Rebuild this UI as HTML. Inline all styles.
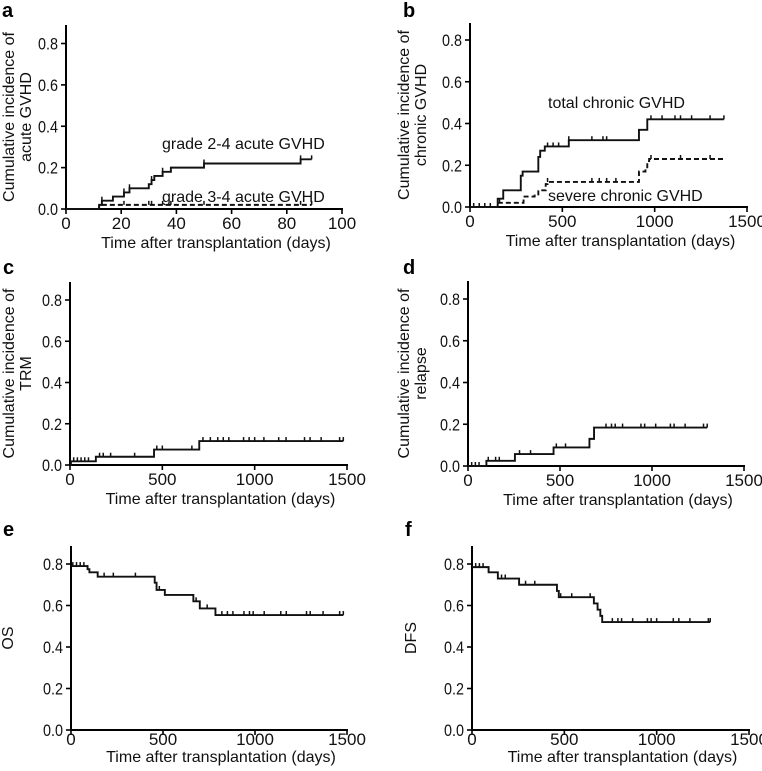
<!DOCTYPE html>
<html><head><meta charset="utf-8">
<style>
html,body{margin:0;padding:0;background:#fff;}
svg{display:block;font-family:"Liberation Sans",Arial,sans-serif;}
</style></head>
<body>
<svg id="fig" width="762" height="771" viewBox="0 0 762 771" xmlns="http://www.w3.org/2000/svg"></svg>
<script>
// ---- Panel a: acute GVHD ----
const aTimes24 = [0, 12, 13, 17, 21, 23, 30, 31, 32, 35, 38, 50, 85];
const aVals24  = [0, 0.02, 0.04, 0.06, 0.08, 0.10, 0.12, 0.14, 0.16, 0.18, 0.20, 0.22, 0.24];
const aEnd24 = 89;
const aCens24 = [13, 21, 23, 31, 35, 50, 85, 89];
const aTimes34 = [0, 12];
const aVals34  = [0, 0.02];
const aEnd34 = 89;
const aCens34 = [13, 21, 30, 31, 35, 38, 50, 85, 89];
const aXTicks = [0, 20, 40, 60, 80, 100];
// ---- Panel b: chronic GVHD ----
const bTimesTot = [0, 150, 180, 275, 285, 370, 380, 405, 535, 915, 960];
const bValsTot  = [0, 0.04, 0.08, 0.15, 0.17, 0.24, 0.27, 0.29, 0.32, 0.37, 0.42];
const bEndTot = 1375;
const bCensTot = [20, 50, 80, 110, 420, 450, 480, 535, 660, 720, 740, 980, 1040, 1110, 1140, 1200, 1300, 1375];
const bTimesSev = [0, 150, 290, 350, 370, 410, 420, 915, 950, 960, 970];
const bValsSev  = [0, 0.02, 0.05, 0.06, 0.08, 0.11, 0.12, 0.17, 0.18, 0.22, 0.23];
const bEndSev = 1375;
const bCensSev = [160, 420, 660, 700, 740, 790, 980, 1140, 1300];
// ---- Panel c: TRM ----
const cTimes = [0, 5, 140, 455, 700];
const cVals  = [0, 0.018, 0.04, 0.075, 0.116];
const cEnd = 1480;
const cCens = [20, 40, 60, 80, 100, 160, 180, 220, 350, 470, 500, 660, 720, 760, 800, 830, 860, 940, 970, 1000, 1050, 1130, 1170, 1270, 1300, 1360, 1460, 1480];
// ---- Panel d: relapse ----
const dTimes = [0, 100, 255, 465, 660, 685];
const dVals  = [0, 0.025, 0.057, 0.089, 0.13, 0.184];
const dEnd = 1300;
const dCens = [20, 40, 60, 110, 150, 170, 280, 340, 480, 530, 750, 780, 800, 840, 940, 960, 1020, 1100, 1120, 1180, 1280, 1300];
// ---- Panel e: OS ----
const eTimes = [0, 90, 100, 145, 455, 465, 510, 665, 700, 785];
const eVals  = [0.79, 0.775, 0.76, 0.739, 0.71, 0.675, 0.651, 0.62, 0.586, 0.554];
const eEnd = 1480;
const eCens = [10, 30, 50, 70, 90, 180, 230, 350, 480, 680, 740, 820, 850, 880, 940, 970, 990, 1050, 1140, 1170, 1280, 1300, 1370, 1460, 1480];
// ---- Panel f: DFS ----
const fTimes = [0, 90, 140, 255, 460, 470, 660, 680, 695, 705];
const fVals  = [0.785, 0.76, 0.73, 0.70, 0.67, 0.64, 0.61, 0.58, 0.55, 0.52];
const fEnd = 1290;
const fCens = [20, 40, 60, 90, 160, 180, 290, 340, 480, 540, 640, 760, 790, 810, 870, 950, 970, 1000, 1090, 1120, 1180, 1280, 1290];
const yTicks = [0, 0.2, 0.4, 0.6, 0.8];
const yTickLabels = ["0.0", "0.2", "0.4", "0.6", "0.8"];
const dayTicks = [0, 500, 1000, 1500];

const NS = "http://www.w3.org/2000/svg";
const svg = document.getElementById("fig");
function mk(tag, attrs, parent) {
  const e = document.createElementNS(NS, tag);
  for (const k in attrs) e.setAttribute(k, attrs[k]);
  (parent || svg).appendChild(e);
  return e;
}
function txt(s, attrs, parent) { const t = mk("text", attrs, parent); t.textContent = s; return t; }

function panel(p) {
  const g = mk("g", {});
  
  
  const xs = v => p.x0 + (v - p.xmin) / (p.xmax - p.xmin) * (p.x1 - p.x0);
  const ys = v => p.y0 - v / 0.8 * (p.y0 - p.y08);
  const tOff = p.tOff || 20, ttOff = p.ttOff || 39;
  const lab = txt(p.id, {x: p.lx, y: p.ly, "font-size": 20, "font-weight": "bold", fill: "#000"}, g);
  
  
  const ya = mk("line", {x1: p.x0, y1: p.top, x2: p.x0, y2: p.y0 + 1, stroke: "#000", "stroke-width": 2}, g);
  
  
  const xa = mk("line", {x1: p.x0 - 1, y1: p.y0, x2: p.x1 + 1, y2: p.y0, stroke: "#000", "stroke-width": 2}, g);
  
  
  yTicks.forEach((v, i) => {
    mk("line", {x1: p.x0 - 5, y1: ys(v), x2: p.x0, y2: ys(v), stroke: "#000", "stroke-width": 1.6}, g);
    const t = txt(yTickLabels[i], {x: p.x0 - 8, y: ys(v) + 6, "font-size": 17, "text-anchor": "end", fill: "#111", textLength: 20, lengthAdjust: "spacingAndGlyphs"}, g);
    
    
  });
  p.xticks.forEach(v => {
    mk("line", {x1: xs(v), y1: p.y0, x2: xs(v), y2: p.y0 + 5, stroke: "#000", "stroke-width": 1.6}, g);
    const t = txt(String(v), {x: xs(v), y: p.y0 + tOff, "font-size": 17, "text-anchor": "middle", fill: "#111"}, g);
    
    
  });
  const xt = txt("Time after transplantation (days)", {x: (p.x0 + p.x1) / 2 + 12, y: p.y0 + ttOff, "font-size": 16, "text-anchor": "middle", fill: "#111"}, g);
  
  
  const cy = (p.top + p.y0) / 2;
  p.ytitle.forEach((s, i) => {
    const xx = p.ytx + i * 17;
    const t = txt(s, {x: xx, y: cy, "font-size": 16, "text-anchor": "middle", fill: "#111", transform: "rotate(-90 " + xx + " " + cy + ")"}, g);
    
    
  });
  p.series.forEach(s => {
    let d = "M" + xs(s.t[0]) + "," + ys(s.v[0]);
    for (let i = 1; i < s.t.length; i++) d += "H" + xs(s.t[i]) + "V" + ys(s.v[i]);
    d += "H" + xs(s.end);
    const path = mk("path", {d: d, fill: "none", stroke: "#111", "stroke-width": 1.9, "stroke-dasharray": s.dash ? "5,3" : "none"}, g);
    
    
    s.cens.forEach(c => {
      let v = s.v[0];
      for (let i = 0; i < s.t.length; i++) if (s.t[i] <= c) v = s.v[i];
      const m = mk("line", {x1: xs(c), y1: ys(v) - 4, x2: xs(c), y2: ys(v), stroke: "#111", "stroke-width": 1.5}, g);
      
      
    });
  });
  (p.notes || []).forEach(n => {
    const t = txt(n.s, {x: n.x, y: n.y, "font-size": 16, fill: "#111"}, g);
    
    
  });
}

panel({id: "a", x0: 66, x1: 342, xmin: 0, xmax: 100, y0: 209, y08: 43.5, top: 25, lx: 2, ly: 17, xticks: aXTicks,
  ytitle: ["Cumulative incidence of", "acute GVHD"], ytx: 14,
  series: [{name: "grade-2-4-curve", t: aTimes24, v: aVals24, end: aEnd24, cens: aCens24},
           {name: "grade-3-4-curve", t: aTimes34, v: aVals34, end: aEnd34, cens: aCens34, dash: true}],
  notes: [{s: "grade 2-4 acute GVHD", x: 162, y: 149}, {s: "grade 3-4 acute GVHD", x: 162, y: 202}]});
panel({id: "b", x0: 470, x1: 747, xmin: 0, xmax: 1500, y0: 207, y08: 40, top: 23, lx: 403, ly: 17, xticks: dayTicks,
  ytitle: ["Cumulative incidence of", "chronic GVHD"], ytx: 409,
  series: [{name: "total-chronic-curve", t: bTimesTot, v: bValsTot, end: bEndTot, cens: bCensTot},
           {name: "severe-chronic-curve", t: bTimesSev, v: bValsSev, end: bEndSev, cens: bCensSev, dash: true}],
  notes: [{s: "total chronic  GVHD", x: 548, y: 108}, {s: "severe chronic  GVHD", x: 548, y: 201}]});
panel({id: "c", x0: 70, x1: 347, xmin: 0, xmax: 1500, y0: 465, y08: 300, top: 282, lx: 3, ly: 274, xticks: dayTicks,
  ytitle: ["Cumulative incidence of", "TRM"], ytx: 14,
  series: [{name: "trm-curve", t: cTimes, v: cVals, end: cEnd, cens: cCens}]});
panel({id: "d", x0: 468, x1: 744, xmin: 0, xmax: 1500, y0: 466, y08: 299, top: 281, lx: 403, ly: 274, xticks: dayTicks,
  ytitle: ["Cumulative incidence of", "relapse"], ytx: 409,
  series: [{name: "relapse-curve", t: dTimes, v: dVals, end: dEnd, cens: dCens}]});
panel({id: "e", x0: 71, x1: 347, xmin: 0, xmax: 1500, y0: 730, y08: 564, top: 546, lx: 3, ly: 536, xticks: dayTicks,
  ytitle: ["OS"], ytx: 13, tOff: 15, ttOff: 32,
  series: [{name: "os-curve", t: eTimes, v: eVals, end: eEnd, cens: eCens}]});
panel({id: "f", x0: 472, x1: 749, xmin: 0, xmax: 1500, y0: 730, y08: 564, top: 546, lx: 405, ly: 536, xticks: dayTicks,
  ytitle: ["DFS"], ytx: 416, tOff: 15, ttOff: 32,
  series: [{name: "dfs-curve", t: fTimes, v: fVals, end: fEnd, cens: fCens}]});
</script>
</body></html>
